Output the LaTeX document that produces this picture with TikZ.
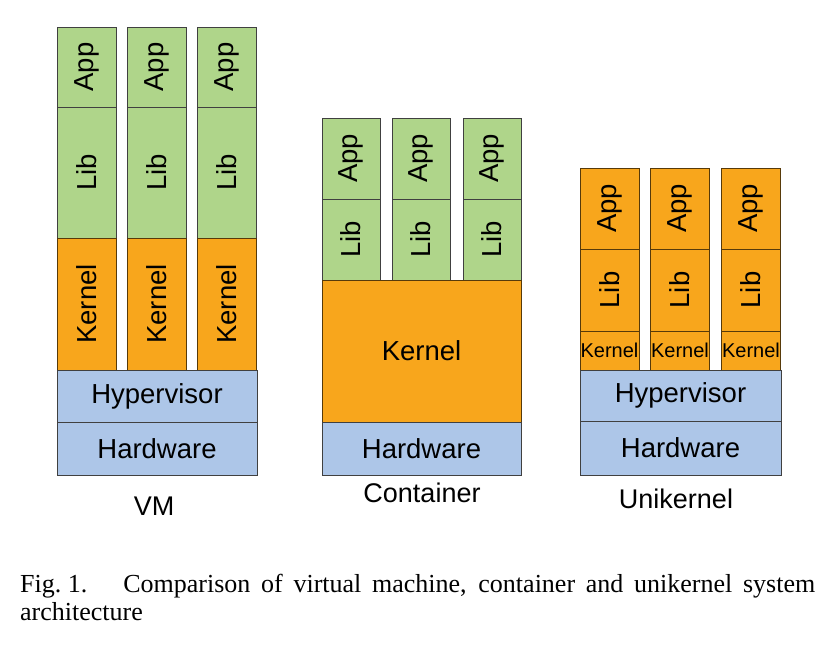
\documentclass[tikz,border=0pt]{standalone}
\usepackage{fontspec}
\setmainfont{Liberation Sans}
\newfontfamily\capfont{Liberation Serif}
\definecolor{appgreen}{RGB}{175,213,138}
\definecolor{kernorange}{RGB}{248,166,28}
\definecolor{hwblue}{RGB}{173,198,232}
\tikzset{
	cell/.style={draw=black!75, line width=0.8pt, inner sep=0pt, font=\fontsize{27.5}{31}\selectfont},
	appcell/.style={cell, fill=appgreen},
	kernelcell/.style={cell, fill=kernorange, draw=kernorange!35!black},
	hwcell/.style={cell, fill=hwblue},
	upright/.style={rotate=90},
	kindlabel/.style={anchor=base, font=\fontsize{27}{31}\selectfont},
}
\begin{document}
\begin{tikzpicture}[x=1pt,y=-1pt]
		\useasboundingbox (0,0) rectangle (829,663);

		% VM
		\node[appcell, upright, minimum width=80, minimum height=59] (vmapp1) at (86.5,67) {App};
		\node[appcell, upright, minimum width=80, minimum height=59] (vmapp2) at (156.5,67) {App};
		\node[appcell, upright, minimum width=80, minimum height=59] (vmapp3) at (227,67) {App};
		\node[appcell, upright, minimum width=131, minimum height=59] (vmlib1) at (86.5,172.5) {Lib};
		\node[appcell, upright, minimum width=131, minimum height=59] (vmlib2) at (156.5,172.5) {Lib};
		\node[appcell, upright, minimum width=131, minimum height=59] (vmlib3) at (227,172.5) {Lib};
		\node[kernelcell, upright, minimum width=132, minimum height=59] (vmkern1) at (86.5,304) {Kernel};
		\node[kernelcell, upright, minimum width=132, minimum height=59] (vmkern2) at (156.5,304) {Kernel};
		\node[kernelcell, upright, minimum width=132, minimum height=59] (vmkern3) at (227,304) {Kernel};
		\node[hwcell, minimum width=200, minimum height=52] (vmhyp) at (157,396) {Hypervisor};
		\node[hwcell, minimum width=200, minimum height=53] (vmhw) at (157,448.5) {Hardware};
		\node[kindlabel] (vmname) at (154,515) {VM};

		% Container
		\node[appcell, upright, minimum width=81, minimum height=58] (ctapp1) at (351,158.5) {App};
		\node[appcell, upright, minimum width=81, minimum height=58] (ctapp2) at (421,158.5) {App};
		\node[appcell, upright, minimum width=81, minimum height=58] (ctapp3) at (492,158.5) {App};
		\node[appcell, upright, minimum width=81, minimum height=58] (ctlib1) at (351,239.5) {Lib};
		\node[appcell, upright, minimum width=81, minimum height=58] (ctlib2) at (421,239.5) {Lib};
		\node[appcell, upright, minimum width=81, minimum height=58] (ctlib3) at (492,239.5) {Lib};
		\node[kernelcell, minimum width=199, minimum height=142] (ctkern) at (421.5,351) {Kernel};
		\node[hwcell, minimum width=199, minimum height=53] (cthw) at (421.5,448.5) {Hardware};
		\node[kindlabel] (ctname) at (422,502) {Container};

		% Unikernel
		\node[kernelcell, upright, minimum width=81, minimum height=59] (ukapp1) at (609.5,208.5) {App};
		\node[kernelcell, upright, minimum width=81, minimum height=59] (ukapp2) at (680,208.5) {App};
		\node[kernelcell, upright, minimum width=81, minimum height=59] (ukapp3) at (751,208.5) {App};
		\node[kernelcell, upright, minimum width=82, minimum height=59] (uklib1) at (609.5,290) {Lib};
		\node[kernelcell, upright, minimum width=82, minimum height=59] (uklib2) at (680,290) {Lib};
		\node[kernelcell, upright, minimum width=82, minimum height=59] (uklib3) at (751,290) {Lib};
		\node[kernelcell, minimum width=59, minimum height=39, font=\fontsize{20}{24}\selectfont] (ukkern1) at (609.5,350.5) {Kernel};
		\node[kernelcell, minimum width=59, minimum height=39, font=\fontsize{20}{24}\selectfont] (ukkern2) at (680,350.5) {Kernel};
		\node[kernelcell, minimum width=59, minimum height=39, font=\fontsize{20}{24}\selectfont] (ukkern3) at (751,350.5) {Kernel};
		\node[hwcell, minimum width=201, minimum height=51] (ukhyp) at (680.5,395.5) {Hypervisor};
		\node[hwcell, minimum width=201, minimum height=54] (ukhw) at (680.5,448) {Hardware};
		\node[kindlabel] (ukname) at (676,508) {Unikernel};

		% caption
		\node[anchor=base west, inner sep=0pt, font=\capfont\fontsize{26}{28}\selectfont] (capline1) at (20,592)
			{\makebox[795pt][s]{\mbox{Fig.~1.}\hspace{36pt}Comparison of virtual machine, container and unikernel system}};
		\node[anchor=base west, inner sep=0pt, font=\capfont\fontsize{26}{28}\selectfont] (capline2) at (20,620) {architecture};
	\end{tikzpicture}
\end{document}
